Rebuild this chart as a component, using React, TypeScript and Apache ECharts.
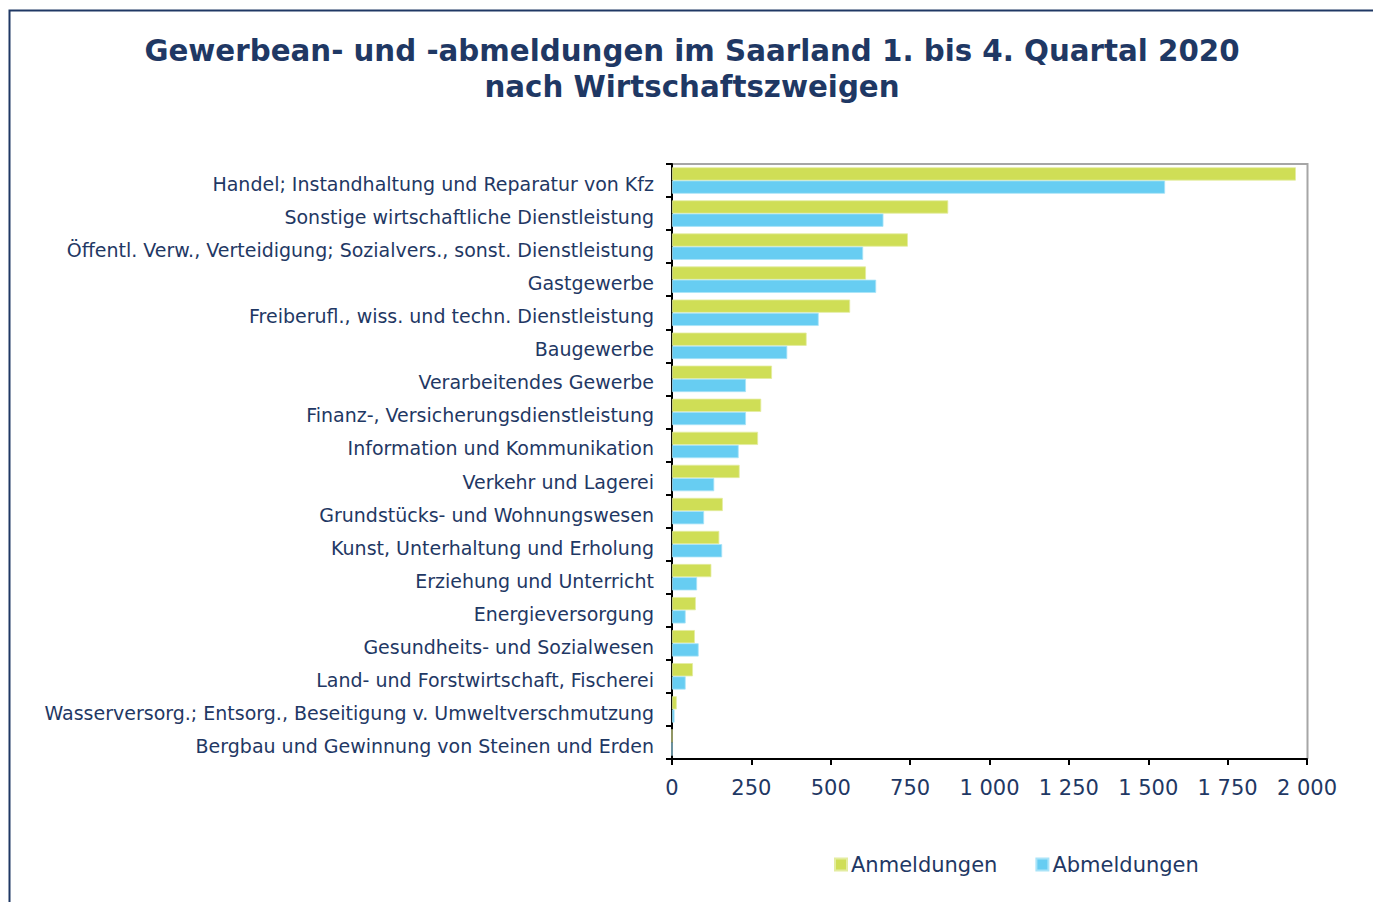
import React, { useEffect, useRef } from "react";
import * as echarts from "echarts";

const categories = [
  "Handel; Instandhaltung und Reparatur von Kfz",
  "Sonstige wirtschaftliche Dienstleistung",
  "Öffentl. Verw., Verteidigung; Sozialvers., sonst. Dienstleistung",
  "Gastgewerbe",
  "Freiberufl., wiss. und techn. Dienstleistung",
  "Baugewerbe",
  "Verarbeitendes Gewerbe",
  "Finanz-, Versicherungsdienstleistung",
  "Information und Kommunikation",
  "Verkehr und Lagerei",
  "Grundstücks- und Wohnungswesen",
  "Kunst, Unterhaltung und Erholung",
  "Erziehung und Unterricht",
  "Energieversorgung",
  "Gesundheits- und Sozialwesen",
  "Land- und Forstwirtschaft, Fischerei",
  "Wasserversorg.; Entsorg., Beseitigung v. Umweltverschmutzung",
  "Bergbau und Gewinnung von Steinen und Erden",
];
const anmeldungen = [1965, 870, 743, 611, 561, 424, 315, 281, 271, 213, 160, 149, 124, 75, 72, 66, 15, 0];
const abmeldungen = [1553, 666, 602, 643, 462, 363, 233, 233, 210, 133, 101, 158, 79, 43, 84, 43, 8, 0];
const xTicks = { min: 0, max: 2000, interval: 250 };

const NAVY = "#1f3864";
const FONT = "'DejaVu Sans', Verdana, sans-serif";

export default function App() {
  const ref = useRef<HTMLDivElement>(null);
  useEffect(() => {
    document.body.style.margin = "0";
    const chart = echarts.init(ref.current!, null, { renderer: "svg" });
    chart.setOption({
      animation: false,
      backgroundColor: "#ffffff",
      textStyle: { fontFamily: FONT },
      title: {
        text: "Gewerbean- und -abmeldungen im Saarland 1. bis 4. Quartal 2020\nnach Wirtschaftszweigen",
        left: 687,
        textAlign: "center",
        top: 28,
        textStyle: { fontFamily: FONT, fontSize: 29.3, fontWeight: "bold", color: NAVY, lineHeight: 36 },
      },
      graphic: [
        {
          type: "rect",
          shape: { x: 9.5, y: 10.5, width: 1400, height: 1000 },
          style: { fill: "none", stroke: NAVY, lineWidth: 2 },
          silent: true,
        },
        {
          type: "polyline",
          shape: { points: [[672, 164], [1307.5, 164], [1307.5, 759]] },
          style: { fill: "none", stroke: "#a6a6a6", lineWidth: 2 },
          silent: true,
          z: -1,
        },
      ],
      legend: {
        left: 834,
        top: 854,
        padding: 0,
        itemWidth: 12,
        itemHeight: 12,
        itemGap: 38,
        icon: "rect",
        textStyle: { fontFamily: FONT, fontSize: 21, color: NAVY, padding: [0, 0, 0, -1] },
        data: ["Anmeldungen", "Abmeldungen"],
      },
      grid: { left: 672, right: 66, top: 164, bottom: 143, containLabel: false },
      xAxis: {
        type: "value",
        min: xTicks.min,
        max: xTicks.max,
        interval: xTicks.interval,
        axisLine: { show: true, lineStyle: { color: "#000", width: 2 } },
        axisTick: { show: true, length: 6, lineStyle: { color: "#000", width: 2 } },
        splitLine: { show: false },
        axisLabel: {
          fontFamily: FONT,
          fontSize: 21,
          color: NAVY,
          margin: 18,
          formatter: (v: number) => (v >= 1000 ? Math.floor(v / 1000) + " " + String(v % 1000).padStart(3, "0") : String(v)),
        },
      },
      yAxis: {
        type: "category",
        inverse: true,
        data: categories,
        axisLine: { show: true, lineStyle: { color: "#000", width: 2 } },
        axisTick: { show: true, length: 6, lineStyle: { color: "#000", width: 2 } },
        axisLabel: {
          color: NAVY,
          margin: 18,
          formatter: (v: string) => "{a|" + v + "}",
          rich: {
            a: { fontFamily: FONT, fontSize: 19, color: NAVY, padding: [7, 0, 0, 0] },
          },
        },
      },
      series: [
        {
          name: "Anmeldungen",
          type: "bar",
          data: anmeldungen,
          itemStyle: { color: "#cfde56", borderColor: "#e3eca0", borderWidth: 0.8 },
          barGap: "0%",
          barCategoryGap: "20%",
        },
        {
          name: "Abmeldungen",
          type: "bar",
          data: abmeldungen,
          itemStyle: { color: "#67cdf2", borderColor: "#a9e3f8", borderWidth: 0.8 },
          barGap: "0%",
          barCategoryGap: "20%",
        },
      ],
    });
    return () => chart.dispose();
  }, []);
  return <div ref={ref} style={{ position: "absolute", left: 0, top: 0, width: 1373, height: 902 }} />;
}
